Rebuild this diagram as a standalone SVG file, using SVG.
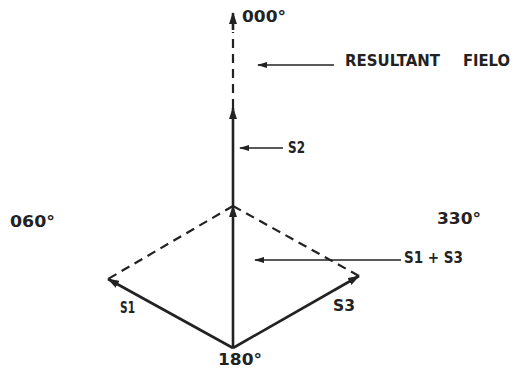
<svg xmlns="http://www.w3.org/2000/svg" width="515" height="371" viewBox="0 0 515 371">
<style>
.lbl{font-family:"DejaVu Sans","Liberation Sans",sans-serif;font-weight:bold;font-size:15px;fill:#222}
.vec{stroke:#222;stroke-width:2.6;fill:none}
.dash{stroke:#222;stroke-width:2.2;fill:none;stroke-dasharray:9 6}
.lead{stroke:#222;stroke-width:1.5;fill:none}
</style>
<defs>
<marker id="ah" viewBox="0 0 12 8" refX="11" refY="4" markerWidth="12" markerHeight="8" markerUnits="userSpaceOnUse" orient="auto">
<path d="M0,0 L12,4 L0,8 Z" fill="#222"/>
</marker>
<marker id="ahs" viewBox="0 0 10 6" refX="9" refY="3" markerWidth="10" markerHeight="6" markerUnits="userSpaceOnUse" orient="auto">
<path d="M0,0 L10,3 L0,6 Z" fill="#222"/>
</marker>
</defs>
<rect width="515" height="371" fill="#fff"/>
<g id="connectors">
<line class="vec" x1="233" y1="348" x2="233" y2="206" marker-end="url(#ah)"/>
<line class="vec" x1="233" y1="206" x2="233" y2="108" marker-end="url(#ah)"/>
<line class="dash" x1="233" y1="108" x2="233" y2="32"/>
<line class="vec" x1="233" y1="30" x2="233" y2="13" marker-end="url(#ah)"/>
<line class="vec" x1="233" y1="348" x2="108" y2="279" marker-end="url(#ah)"/>
<line class="vec" x1="233" y1="348" x2="359" y2="276" marker-end="url(#ah)"/>
<line class="dash" x1="233" y1="206" x2="108" y2="279"/>
<line class="dash" x1="233" y1="206" x2="359" y2="276"/>
<line class="lead" x1="334" y1="65" x2="258" y2="65" marker-end="url(#ahs)"/>
<line class="lead" x1="283" y1="148" x2="240" y2="148" marker-end="url(#ahs)"/>
<line class="lead" x1="401" y1="260" x2="255" y2="260" marker-end="url(#ahs)"/>
</g>
<g id="label-000"><text class="lbl" x="242" y="22" textLength="44" lengthAdjust="spacingAndGlyphs">000°</text></g>
<g id="label-resultant"><text class="lbl" x="345" y="66" textLength="95" lengthAdjust="spacingAndGlyphs">RESULTANT</text><text class="lbl" x="463" y="66" textLength="47" lengthAdjust="spacingAndGlyphs">FIELO</text></g>
<g id="label-s2"><text class="lbl" x="288" y="153" textLength="17" lengthAdjust="spacingAndGlyphs">S2</text></g>
<g id="label-060"><text class="lbl" x="10" y="227" textLength="45" lengthAdjust="spacingAndGlyphs">060°</text></g>
<g id="label-330"><text class="lbl" x="437" y="224" textLength="44" lengthAdjust="spacingAndGlyphs">330°</text></g>
<g id="label-s1s3"><text class="lbl" x="404" y="263" textLength="59" lengthAdjust="spacingAndGlyphs">S1 + S3</text></g>
<g id="label-s1"><text class="lbl" x="120" y="313" textLength="15" lengthAdjust="spacingAndGlyphs">S1</text></g>
<g id="label-s3"><text class="lbl" x="333" y="311" textLength="22" lengthAdjust="spacingAndGlyphs">S3</text></g>
<g id="label-180"><text class="lbl" x="218" y="365" font-size="14" textLength="44" lengthAdjust="spacingAndGlyphs">180°</text></g>
</svg>
